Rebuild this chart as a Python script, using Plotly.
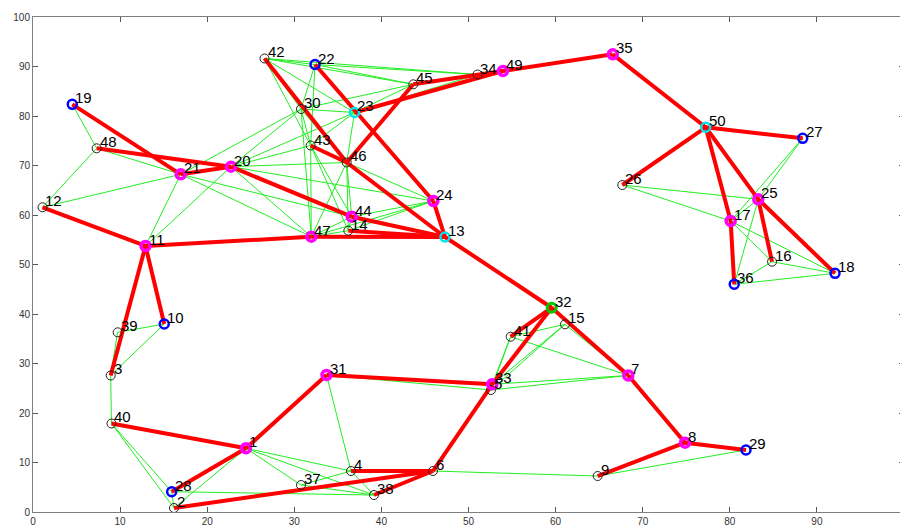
import plotly.graph_objects as go

# Node ids and coordinates
node_ids = list(range(1, 51))
node_x = [24.45, 16.19, 8.92, 36.51, 52.58, 45.92, 68.35, 74.86, 64.83, 15.07,
          12.92, 1.09, 47.30, 36.20, 61.08, 84.85, 80.10, 92.08, 4.51, 22.73,
          16.96, 32.38, 36.91, 45.96, 83.27, 67.66, 88.37, 15.92, 81.86, 30.77,
          33.70, 59.55, 52.73, 51.03, 66.56, 80.51, 30.77, 39.15, 9.72, 9.01,
          54.84, 26.58, 31.88, 36.59, 43.66, 36.02, 31.95, 7.31, 53.96, 77.23]
node_y = [12.87, 0.81, 27.58, 8.28, 24.65, 8.28, 27.58, 14.00, 7.27, 37.98,
          53.74, 61.56, 55.56, 56.83, 37.92, 50.57, 58.79, 48.22, 82.36, 69.76,
          68.22, 90.40, 80.71, 62.83, 63.17, 66.06, 75.49, 4.10, 12.53, 81.41,
          27.68, 41.27, 25.80, 88.38, 92.46, 46.00, 5.45, 3.43, 36.30, 17.88,
          35.41, 91.62, 74.04, 59.66, 86.40, 70.61, 55.62, 73.47, 89.09, 77.72]

# Node groups
magenta_nodes = [1, 7, 8, 11, 17, 20, 21, 24, 25, 31, 33, 35, 44, 47, 49]
blue_nodes = [10, 18, 19, 22, 27, 28, 29, 36]
cyan_nodes = [13, 23, 50]
green_nodes = [32]

# Thick red edges
red_edges = [(19, 21), (48, 20), (21, 20), (20, 44), (44, 13), (12, 11), (11, 47),
             (47, 13), (14, 13), (11, 10), (11, 3), (40, 1), (1, 31), (28, 1),
             (2, 6), (4, 6), (38, 6), (6, 33), (31, 33), (33, 32), (41, 32),
             (13, 32), (32, 7), (7, 8), (8, 29), (9, 8), (42, 46), (43, 46),
             (46, 13), (45, 46), (45, 49), (22, 24), (24, 13), (23, 49), (49, 35),
             (35, 50), (50, 27), (50, 26), (50, 17), (17, 36), (50, 25), (25, 16),
             (25, 18)]

# Thin green edges
green_edges = [(19, 48), (48, 12), (48, 21), (12, 21), (21, 11), (20, 11), (21, 47),
               (20, 47), (21, 30), (20, 30), (20, 43), (20, 23), (20, 46), (20, 24),
               (42, 22), (42, 34), (42, 45), (42, 23), (42, 30), (42, 43),
               (22, 34), (22, 45), (22, 23), (22, 43), (22, 30),
               (30, 45), (30, 23), (30, 43), (30, 47), (30, 46),
               (43, 23), (43, 47), (43, 44), (43, 14), (23, 46), (23, 45), (23, 34),
               (46, 24), (46, 47), (46, 44), (46, 14), (44, 24), (44, 47), (44, 14),
               (47, 24), (47, 14), (14, 24), (21, 44), (45, 34),
               (26, 25), (26, 17), (27, 25), (27, 17), (25, 17), (25, 36), (17, 16),
               (17, 18), (16, 18), (16, 36), (36, 18),
               (41, 15), (41, 33), (41, 5), (41, 7), (15, 33), (15, 5), (15, 7),
               (33, 7), (5, 7), (31, 5), (31, 4), (6, 9), (9, 29),
               (3, 39), (39, 10), (3, 10), (3, 40), (40, 28), (40, 2), (2, 28),
               (1, 2), (1, 28), (1, 4), (1, 37), (1, 38), (28, 38), (37, 4), (37, 38),
               (4, 38)]


def edge_xy(edges):
    xs, ys = [], []
    for a, b in edges:
        xs += [node_x[a - 1], node_x[b - 1], None]
        ys += [node_y[a - 1], node_y[b - 1], None]
    return xs, ys


def sub(nodes):
    return [node_x[n - 1] for n in nodes], [node_y[n - 1] for n in nodes]


fig = go.Figure()
gx, gy = edge_xy(green_edges)
fig.add_trace(go.Scatter(x=gx, y=gy, mode="lines", line=dict(color="#22ee22", width=1),
                         hoverinfo="skip"))
rx, ry = edge_xy(red_edges)
fig.add_trace(go.Scatter(x=rx, y=ry, mode="lines", line=dict(color="#ff0000", width=4),
                         hoverinfo="skip"))

black_nodes = [n for n in node_ids if n not in magenta_nodes + blue_nodes + cyan_nodes + green_nodes]
bx, by = sub(black_nodes)
fig.add_trace(go.Scatter(x=bx, y=by, mode="markers",
                         marker=dict(symbol="circle-open", size=9, color="#222222",
                                     line=dict(width=1, color="#222222"))))
mx, my = sub(magenta_nodes)
fig.add_trace(go.Scatter(x=mx, y=my, mode="markers",
                         marker=dict(symbol="circle-open", size=9, color="#ff00ff",
                                     line=dict(width=3.5, color="#ff00ff"))))
ux, uy = sub(blue_nodes)
fig.add_trace(go.Scatter(x=ux, y=uy, mode="markers",
                         marker=dict(symbol="circle-open", size=9, color="#0000ff",
                                     line=dict(width=2.5, color="#0000ff"))))
cx, cy = sub(cyan_nodes)
fig.add_trace(go.Scatter(x=cx, y=cy, mode="markers",
                         marker=dict(symbol="circle-open", size=9, color="#00e5ee",
                                     line=dict(width=2.5, color="#00e5ee"))))
vx, vy = sub(green_nodes)
fig.add_trace(go.Scatter(x=vx, y=vy, mode="markers",
                         marker=dict(symbol="circle-open", size=9, color="#00cc00",
                                     line=dict(width=3, color="#00cc00"))))

for n in node_ids:
    fig.add_annotation(x=node_x[n - 1], y=node_y[n - 1], text=str(n), showarrow=False,
                       xanchor="left", yanchor="bottom", xshift=1, yshift=-4,
                       font=dict(family="Arial", size=15, color="black"))

axis_common = dict(range=[0, 100], dtick=10, tick0=0, showgrid=False, zeroline=False,
                   showline=True, mirror="allticks", linecolor="#7f7f7f", linewidth=1,
                   ticks="inside", ticklen=5, tickcolor="#555555",
                   tickfont=dict(family="Arial", size=10, color="#333333"))
# page body has an 8px default margin, so the figure is sized/offset to compensate
fig.update_layout(width=900, height=520, margin=dict(l=25, r=4, t=9, b=16, autoexpand=False),
                  paper_bgcolor="white", plot_bgcolor="white", showlegend=False,
                  xaxis=dict(**axis_common), yaxis=dict(**axis_common))
fig.write_html("out.html")
